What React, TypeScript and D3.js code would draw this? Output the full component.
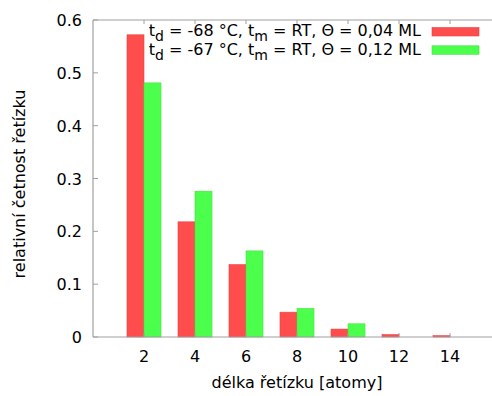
import React from "react";
import * as d3 from "d3";

const categories = [2, 4, 6, 8, 10, 12, 14];
const seriesRed = [0.572, 0.218, 0.137, 0.047, 0.015, 0.0045, 0.0025];
const seriesGreen = [0.481, 0.276, 0.163, 0.054, 0.025, 0, 0];
const yTicks = [0, 0.1, 0.2, 0.3, 0.4, 0.5, 0.6];
const xTicks = [2, 4, 6, 8, 10, 12, 14];
const legendLabels = [
  { sub1: "d", v1: " = -68 °C, t", sub2: "m", v2: " = RT, Θ = 0,04 ML" },
  { sub1: "d", v1: " = -67 °C, t", sub2: "m", v2: " = RT, Θ = 0,12 ML" },
];

const W = 492;
const H = 396;
const left = 93;
const right = 501;
const top = 20;
const bottom = 337;
const RED = "#ff4d4d";
const GREEN = "#4dff4d";
const AXIS = "#a0a0a0";
const FONT = "'DejaVu Sans', sans-serif";
const FS = 16;

export default function App() {
  const x = d3.scaleLinear().domain([0, 16]).range([left, right]);
  const y = d3.scaleLinear().domain([0, 0.6]).range([bottom, top]);
  const bw = 0.667;
  const colors = [RED, GREEN];
  const series = [seriesRed, seriesGreen];

  return (
    <svg width={W} height={H} style={{ position: "absolute", left: 0, top: 0, background: "#fff" }} fontFamily={FONT}>
      <rect width={W} height={H} fill="#fff" />
      {series.map((s, si) =>
        s.map((v, i) => {
          if (v <= 0) return null;
          const c = categories[i];
          const x0 = si === 0 ? x(c - bw) : x(c);
          const x1 = si === 0 ? x(c) : x(c + bw);
          return (
            <rect
              key={`${si}-${i}`}
              x={x0}
              y={y(v)}
              width={x1 - x0}
              height={y(0) - y(v)}
              fill={colors[si]}
              stroke={si === 0 ? "#e04545" : "#45e045"}
              strokeWidth={0.6}
            />
          );
        })
      )}
      <line x1={left} y1={top} x2={right} y2={top} stroke={AXIS} strokeWidth={1.2} />
      <line x1={left} y1={top} x2={left} y2={bottom} stroke={AXIS} strokeWidth={1.2} />
      <line x1={left} y1={bottom} x2={right} y2={bottom} stroke={AXIS} strokeWidth={1.2} />
      {yTicks.map((t) => (
        <g key={t}>
          <line x1={left} x2={left + 5} y1={y(t)} y2={y(t)} stroke={AXIS} />
          <text x={82} y={y(t) + 6} textAnchor="end" fontSize={FS} fill="#000">
            {t === 0 ? "0" : t.toFixed(1)}
          </text>
        </g>
      ))}
      {xTicks.map((t) => (
        <g key={t}>
          <line x1={x(t)} x2={x(t)} y1={bottom} y2={bottom - 4} stroke={AXIS} />
          <line x1={x(t)} x2={x(t)} y1={top} y2={top + 4} stroke={AXIS} />
          <text x={x(t)} y={362} textAnchor="middle" fontSize={FS} fill="#000">
            {t}
          </text>
        </g>
      ))}
      <text x={x(8)} y={388} textAnchor="middle" fontSize={FS} fill="#000">
        délka řetízku [atomy]
      </text>
      <text
        transform={`translate(25,${184}) rotate(-90)`}
        textAnchor="middle"
        fontSize={FS}
        fill="#000"
      >
        relativní četnost řetízku
      </text>
      {legendLabels.map((l, i) => {
        const by = 36 + i * 18.5;
        return (
          <g key={i}>
            <text x={421} y={by} textAnchor="end" fontSize={FS} fill="#000">
              <tspan>t</tspan>
              <tspan dy={5} fontSize={14}>{l.sub1}</tspan>
              <tspan dy={-5}>{l.v1}</tspan>
              <tspan dy={5} fontSize={14}>{l.sub2}</tspan>
              <tspan dy={-5}>{l.v2}</tspan>
            </text>
            <rect
              x={432}
              y={27.5 + i * 18.3}
              width={47}
              height={8.5}
              fill={colors[i]}
              stroke={i === 0 ? "#e04545" : "#45e045"}
              strokeWidth={0.6}
            />
          </g>
        );
      })}
    </svg>
  );
}
